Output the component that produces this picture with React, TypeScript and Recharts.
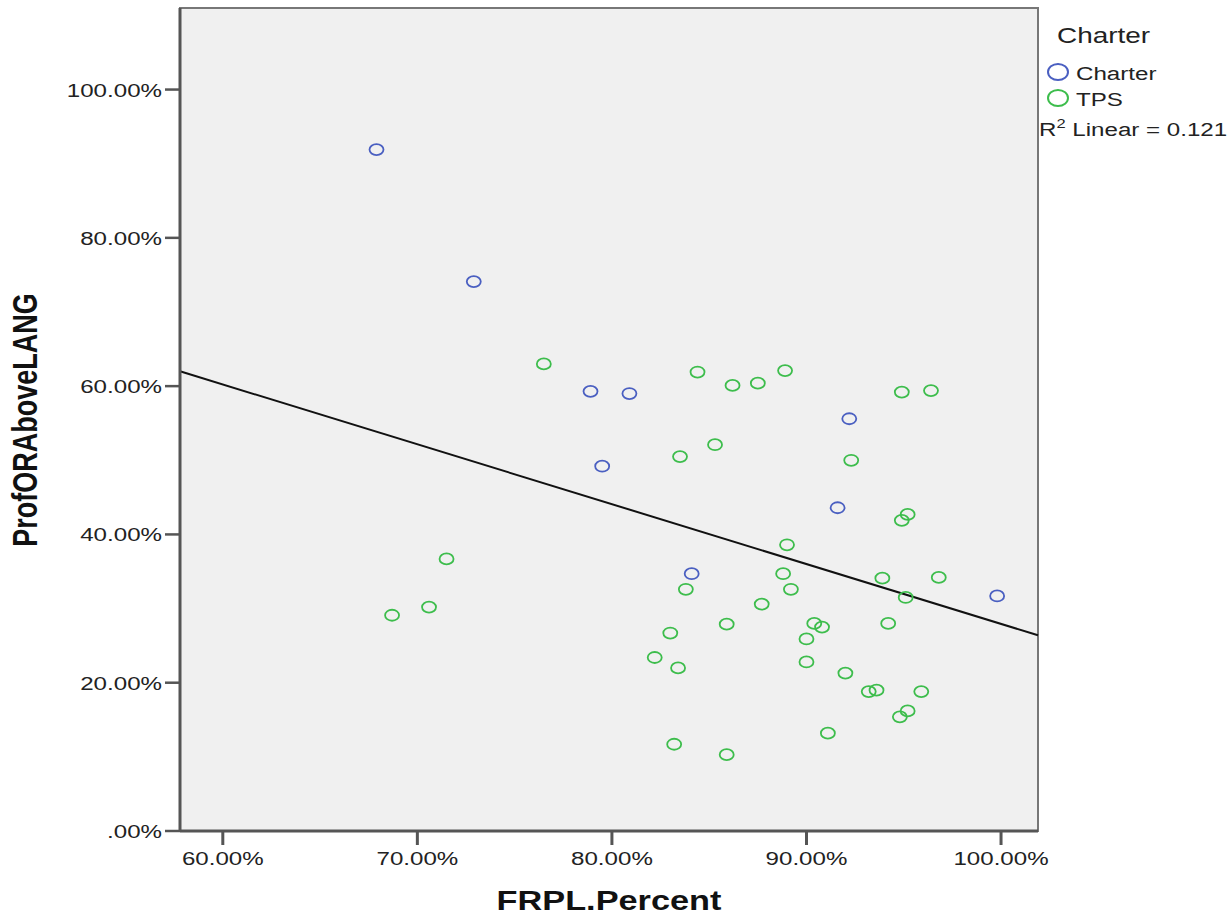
import React from 'react';
import {
  ScatterChart,
  Scatter,
  XAxis,
  YAxis,
  CartesianGrid,
  ReferenceLine,
  ReferenceArea
} from 'recharts';

// FRPL.Percent (x) and ProfORAboveLANG (y), in percent
const charterX = [67.9, 72.9, 78.9, 80.9, 79.5, 92.2, 91.6, 84.1, 99.8];
const charterY = [91.9, 74.1, 59.3, 59.0, 49.2, 55.6, 43.6, 34.7, 31.7];

const tpsX = [
  76.5, 71.5, 70.6, 68.7, 84.4, 86.2, 87.5, 88.9, 94.9, 96.4,
  83.5, 85.3, 92.3, 95.2, 94.9, 89.0, 88.8, 83.8, 89.2, 87.7,
  93.9, 96.8, 95.1, 85.9, 83.0, 90.4, 90.8, 90.0, 94.2, 82.2,
  83.4, 90.0, 92.0, 93.2, 93.6, 95.9, 95.2, 94.8, 83.2, 85.9, 91.1
];
const tpsY = [
  63.0, 36.7, 30.2, 29.1, 61.9, 60.1, 60.4, 62.1, 59.2, 59.4,
  50.5, 52.1, 50.0, 42.7, 41.9, 38.6, 34.7, 32.6, 32.6, 30.6,
  34.1, 34.2, 31.5, 27.9, 26.7, 28.0, 27.5, 25.9, 28.0, 23.4,
  22.0, 22.8, 21.3, 18.8, 19.0, 18.8, 16.2, 15.4, 11.7, 10.3, 13.2
];

// linear fit line, end points
const fitX = [57.8, 101.9];
const fitY = [62.0, 26.4];

const seriesNames = ['Charter', 'TPS'];
const seriesColors = ['#4a5fc1', '#3dbd4c'];

const xTicks = [60, 70, 80, 90, 100];
const yTicks = [0, 20, 40, 60, 80, 100];
const rSquared = '0.121';

const charterData = charterX.map((x, i) => ({ x, y: charterY[i] }));
const tpsData = tpsX.map((x, i) => ({ x, y: tpsY[i] }));
const fitSegment = fitX.map((x, i) => ({ x, y: fitY[i] }));

const FONT = '"Liberation Sans", Arial, sans-serif';
const STRETCH = 1.27;

const fmtPct = (v: number) => (v === 0 ? '.00%' : `${v.toFixed(2)}%`);

const Ring = (color: string) => (props: any) => {
  const { cx, cy } = props;
  if (cx == null || cy == null) return <g />;
  return <ellipse cx={cx} cy={cy} rx={7} ry={5.5} fill="none" stroke={color} strokeWidth={1.8} />;
};

const YTick = ({ x, y, payload }: any) => (
  <text
    transform={`translate(${x},${y + 7}) scale(${STRETCH},1)`}
    textAnchor="end"
    fontFamily={FONT}
    fontSize={19}
    fill="#222"
  >
    {fmtPct(payload.value)}
  </text>
);

const XTick = ({ x, y, payload }: any) => (
  <text
    transform={`translate(${x},${y + 18}) scale(${STRETCH},1)`}
    textAnchor="middle"
    fontFamily={FONT}
    fontSize={19}
    fill="#222"
  >
    {fmtPct(payload.value)}
  </text>
);

const AxisTitles = () => (
  <g fontFamily={FONT} fontWeight="bold" fontSize={27} fill="#111">
    <text transform={`translate(37,420) scale(${STRETCH},1) rotate(-90)`} textAnchor="middle">
      ProfORAboveLANG
    </text>
    <text transform={`translate(609,910) scale(${STRETCH},1)`} textAnchor="middle">
      FRPL.Percent
    </text>
  </g>
);

const LegendBlock = () => (
  <g fontFamily={FONT} fill="#222">
    <text transform={`translate(1057,43) scale(${STRETCH},1)`} fontSize={22}>
      Charter
    </text>
    {seriesNames.map((name, i) => (
      <g key={name}>
        <ellipse cx={1058} cy={72 + i * 26} rx={10} ry={8} fill="none" stroke={seriesColors[i]} strokeWidth={2} />
        <text transform={`translate(1076,${80 + i * 26}) scale(${STRETCH},1)`} fontSize={19}>
          {name}
        </text>
      </g>
    ))}
    <text transform={`translate(1039,136) scale(${STRETCH},1)`} fontSize={19}>
      <tspan>R</tspan>
      <tspan dy={-8} fontSize={13}>2</tspan>
      <tspan dy={8}>{` Linear = ${rSquared}`}</tspan>
    </text>
  </g>
);

const App: React.FC = () => {
  return (
    <div style={{ position: 'absolute', left: 0, top: 0, background: '#fff' }}>
      <ScatterChart width={1232} height={915} margin={{ top: 8, right: 194, bottom: 0, left: 0 }}>
        <CartesianGrid fill="#f0f0f0" horizontal={false} vertical={false} />
        <ReferenceArea
          x1={57.8}
          x2={101.9}
          y1={0}
          y2={111}
          fill="none"
          stroke="#777"
          strokeWidth={2}
          ifOverflow="visible"
        />
        <XAxis
          type="number"
          dataKey="x"
          domain={[57.8, 101.9]}
          allowDataOverflow
          ticks={xTicks}
          height={84}
          tickSize={14}
          tickMargin={2}
          tick={<XTick />}
          axisLine={{ stroke: '#555', strokeWidth: 3 }}
          tickLine={{ stroke: '#555', strokeWidth: 3 }}
        />
        <YAxis
          type="number"
          dataKey="y"
          domain={[0, 111]}
          allowDataOverflow
          ticks={yTicks}
          width={180}
          tickSize={15}
          tickMargin={3}
          tick={<YTick />}
          axisLine={{ stroke: '#555', strokeWidth: 3 }}
          tickLine={{ stroke: '#555', strokeWidth: 2.5 }}
        />
        <ReferenceLine
          segment={fitSegment}
          stroke="#111"
          strokeWidth={2}
          ifOverflow="visible"
        />
        <Scatter
          name={seriesNames[1]}
          data={tpsData}
          shape={Ring(seriesColors[1])}
          isAnimationActive={false}
        />
        <Scatter
          name={seriesNames[0]}
          data={charterData}
          shape={Ring(seriesColors[0])}
          isAnimationActive={false}
        />
        <AxisTitles />
        <LegendBlock />
      </ScatterChart>
    </div>
  );
};

export default App;
